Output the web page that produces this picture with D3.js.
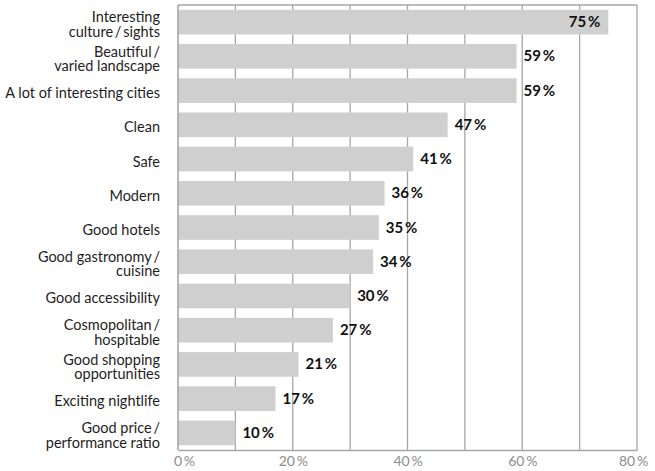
<!DOCTYPE html>
<html>
<head>
<meta charset="utf-8">
<script src="https://cdn.jsdelivr.net/npm/d3@7"></script>
<style>
  html, body { margin: 0; padding: 0; background: #fff; }
  svg { display: block; }
  text { font-family: Lato, "Open Sans", sans-serif; }
</style>
</head>
<body>
<svg id="chart" width="655" height="471"></svg>
<script>
// Attributes of the destination, share of respondents (%)
const categories = [
  "Interesting\nculture\u2009/\u2009sights",
  "Beautiful\u2009/\nvaried landscape",
  "A lot of interesting cities",
  "Clean",
  "Safe",
  "Modern",
  "Good hotels",
  "Good gastronomy\u2009/\ncuisine",
  "Good accessibility",
  "Cosmopolitan\u2009/\nhospitable",
  "Good shopping\nopportunities",
  "Exciting nightlife",
  "Good price\u2009/\nperformance ratio"
];
const values = [75, 59, 59, 47, 41, 36, 35, 34, 30, 27, 21, 17, 10];
const xTicks = [0, 20, 40, 60, 80];
const xGrid = [10, 20, 30, 40, 50, 60, 70, 80];

const svg = d3.select("#chart");
const margin = { top: 5, right: 18, bottom: 21, left: 178 };
const W = 655 - margin.left - margin.right;
const H = 471 - margin.top - margin.bottom;

const g = svg.append("g").attr("transform", `translate(${margin.left},${margin.top})`);

const x = d3.scaleLinear().domain([0, 80]).range([0, W]);
const y = d3.scaleBand().domain(categories).range([0, H]).paddingInner(0.28).paddingOuter(0.14);

const pct = v => `${v}\u2009%`;

// vertical grid lines and frame
g.selectAll("line.grid").data(xGrid).join("line")
  .attr("class", "grid")
  .attr("x1", d => x(d)).attr("x2", d => x(d))
  .attr("y1", 0).attr("y2", H)
  .attr("stroke", "#a6a6a6").attr("stroke-width", 1.3);
g.append("line").attr("x1", 0).attr("x2", W).attr("y1", 0).attr("y2", 0)
  .attr("stroke", "#a6a6a6").attr("stroke-width", 1.3);

// bars
g.selectAll("rect.bar").data(values).join("rect")
  .attr("class", "bar")
  .attr("x", 0)
  .attr("y", (d, i) => y(categories[i]))
  .attr("width", d => x(d))
  .attr("height", y.bandwidth())
  .attr("fill", "#cfcfcf");

// left axis line and bottom axis
g.append("line").attr("x1", 0).attr("x2", 0).attr("y1", 0).attr("y2", H)
  .attr("stroke", "#a6a6a6").attr("stroke-width", 1.6);

const xAxis = g.append("g").attr("transform", `translate(0,${H})`)
  .call(d3.axisBottom(x).tickValues(xTicks).tickFormat(pct).tickSize(0).tickPadding(6));
xAxis.select(".domain").attr("stroke", "#a6a6a6").attr("stroke-width", 1.6);
xAxis.selectAll("text")
  .attr("fill", "#8c8c8c")
  .style("font-size", "14px")
  .attr("dy", "0.71em")
  .attr("dx", d => d === 0 ? 6 : (d === 80 ? -4 : 0));

// category labels (multi-line)
const lineH = 14.5;
const labels = g.append("g").selectAll("text").data(categories).join("text")
  .attr("text-anchor", "end")
  .attr("fill", "#1e1e1e")
  .style("font-size", "14.5px")
  .attr("transform", d => `translate(-18,${y(d) + y.bandwidth() / 2 + 7.5})`);
labels.each(function (d) {
  const lines = d.split("\n");
  const t = d3.select(this);
  lines.forEach((ln, k) => {
    t.append("tspan")
      .attr("x", 0)
      .attr("y", (k - (lines.length - 1) / 2) * lineH)
      .text(ln);
  });
});

// value labels
g.selectAll("text.val").data(values).join("text")
  .attr("class", "val")
  .attr("fill", "#111")
  .style("font-size", "15px")
  .style("font-weight", "bold")
  .attr("y", (d, i) => y(categories[i]) + y.bandwidth() / 2 + 5)
  .each(function (d) {
    const inside = x(d) + 44 > W;
    d3.select(this)
      .attr("x", inside ? x(d) - 8 : x(d) + 7)
      .attr("text-anchor", inside ? "end" : "start");
  })
  .text(pct);
</script>
</body>
</html>
